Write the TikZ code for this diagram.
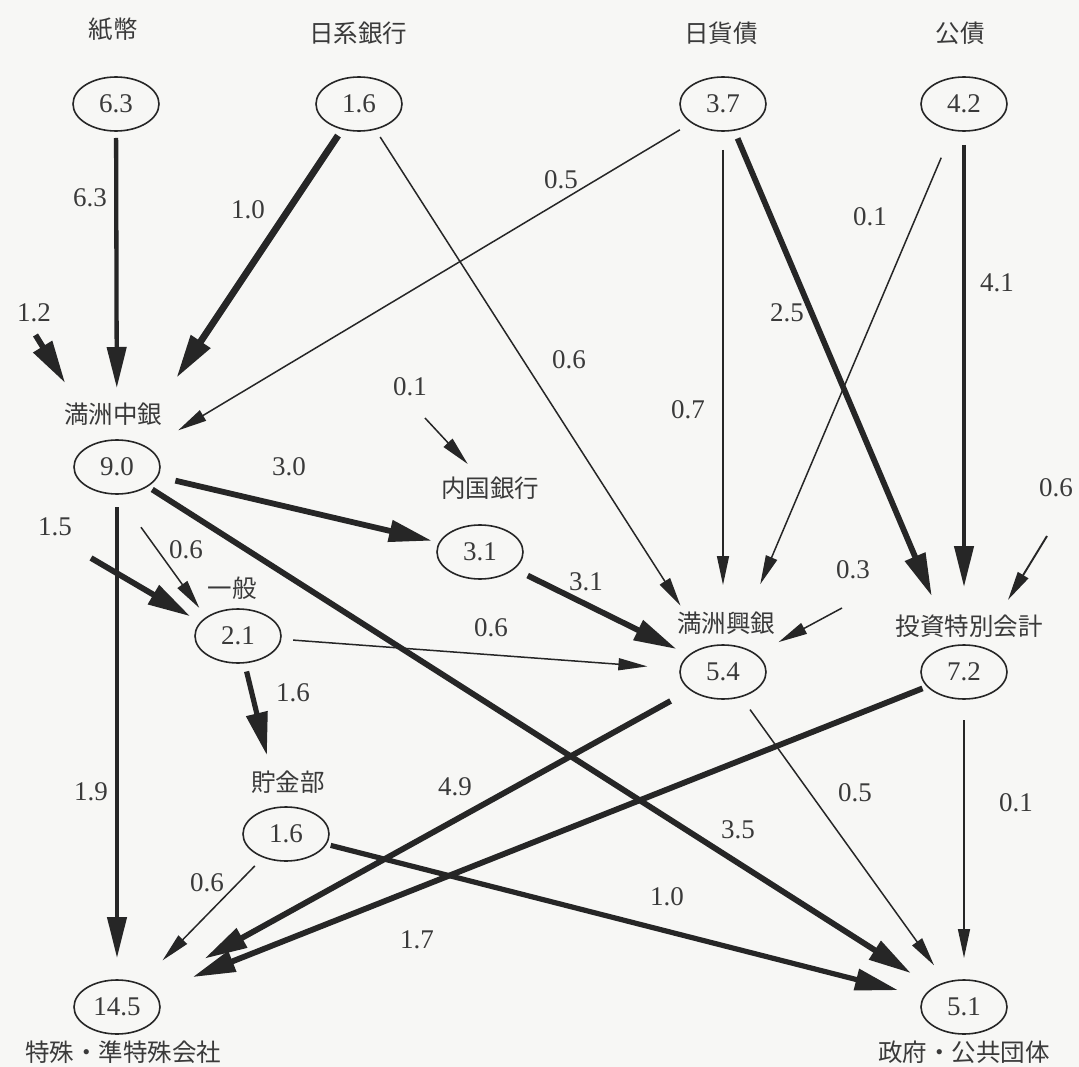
\documentclass[tikz,border=0pt]{standalone}
\usepackage{fontspec}
\setmainfont{Liberation Serif}
\newfontfamily\jpfont{Noto Sans CJK JP}
\usetikzlibrary{arrows.meta,shapes.geometric}
\definecolor{ink}{HTML}{262626}
\definecolor{txt}{HTML}{3A3A3A}
\definecolor{paper}{HTML}{F7F7F5}
\begin{document}
\begin{tikzpicture}[x=1pt,y=-1pt,
  oval/.style={draw=ink, line width=1.6pt, ellipse, minimum width=86pt, minimum height=54pt,
               inner sep=0pt, outer sep=0pt, text=txt, font=\fontsize{27}{27}\selectfont},
  lab/.style={inner sep=0pt, text=txt, font=\jpfont\fontsize{24.5}{24.5}\selectfont},
  num/.style={inner sep=0pt, text=txt, font=\fontsize{27}{27}\selectfont},
  thin/.style={draw=ink, line width=1.5pt, -{Triangle[length=29pt,width=12pt]}},
  mid/.style={draw=ink, line width=4.3pt, -{Triangle[length=41pt,width=19pt]}},
  bold/.style={draw=ink, line width=5.8pt, -{Triangle[length=43pt,width=21pt]}},
  heavy/.style={draw=ink, line width=6.8pt, -{Triangle[length=44pt,width=22pt]}},
]
\path[fill=paper] (0,0) rectangle (1079,1067);

% top row
\node[lab] (tA) at (113,29) {紙幣};
\node[lab] (tB) at (358,33) {日系銀行};
\node[lab] (tC) at (721,33) {日貨債};
\node[lab] (tD) at (960,33) {公債};
\node[oval] (eA) at (116,104) {6.3};
\node[oval] (eB) at (359,104) {1.6};
\node[oval] (eC) at (723,104) {3.7};
\node[oval] (eD) at (964,104) {4.2};

% middle
\node[lab] (tM) at (113,414) {満洲中銀};
\node[oval] (eM) at (117,467) {9.0};
\node[lab] (tN) at (490,488) {内国銀行};
\node[oval] (eN) at (480,552) {3.1};
\node[lab] (tG) at (232,588) {一般};
\node[oval] (eG) at (238,636) {2.1};
\node[lab] (tK) at (726,623) {満洲興銀};
\node[oval] (eK) at (723,672) {5.4};
\node[lab] (tT) at (969,626) {投資特別会計};
\node[oval] (eT) at (964,672) {7.2};
\node[lab] (tS) at (288,782) {貯金部};
\node[oval] (eS) at (286,834) {1.6};

% bottom
\node[oval] (eX) at (117,1007) {14.5};
\node[lab] (tX) at (123,1052) {特殊・準特殊会社};
\node[oval] (eY) at (964,1007) {5.1};
\node[lab] (tY) at (964,1052) {政府・公共団体};

% free ends of incoming flows
\coordinate (in12) at (35.5,335);
\coordinate (in06) at (1047,536);
\coordinate (in03) at (842,608);
\coordinate (in01) at (425,418);
\coordinate (in15) at (91,558);

% connectors
\draw[mid, shorten <=7pt, shorten >=52pt] (eA) -- (eM);
\draw[heavy, shorten <=8pt, shorten >=77pt] (eB) -- (eM);
\draw[thin, shorten <=14pt, shorten >=35pt] (eC) -- (eM);
\draw[bold, shorten >=69pt] (in12) -- (eM);
\draw[thin, shorten <=9.5pt, shorten >=49pt] (eB) -- (eK);
\draw[thin, shorten <=19pt, shorten >=60pt] (eC) -- (eK);
\draw[bold, shorten <=9pt, shorten >=54pt] (eC) -- (eT);
\draw[thin, shorten <=30pt, shorten >=67pt] (eD) -- (eK);
\draw[mid, shorten <=14pt, shorten >=58pt] (eD) -- (eT);
\draw[thin, line width=1.9pt, shorten >=55pt] (in06) -- (eT);
\draw[thin, shorten >=26pt] (in03) -- (eK);
\draw[thin, shorten >=17pt] (in01) -- (tN);
\draw[bold, shorten <=18.6pt, shorten >=8pt] (eM) -- (eN);
\draw[bold, shorten <=6pt, shorten >=27pt] (eM) -- (eY);
\draw[mid, shorten <=13pt, shorten >=22pt] (eM) -- (eX);
\draw[thin, shorten <=41pt, shorten >=12pt] (eM.south) -- (eG.150);
\draw[bold, shorten >=12pt] (in15) -- (eG.160);
\draw[thin, shorten <=12.5pt, shorten >=33pt] (eG) -- (eK);
\draw[bold, shorten <=15.5pt, shorten >=14pt] (eN) -- (eK);
\draw[bold, line width=5.2pt, shorten <=9pt, shorten >=53.5pt] (eG) -- (eS);
\draw[bold, shorten <=23pt, shorten >=63pt] (eK) -- (eX);
\draw[bold, shorten <=5.5pt, shorten >=42pt] (eT) -- (eX);
\draw[thin, shorten <=12.5pt, shorten >=33pt] (eS) -- (eX);
\draw[bold, line width=5.2pt, shorten <=5pt, shorten >=27pt] (eS) -- (eY);
\draw[thin, shorten <=16pt, shorten >=21pt] (eK) -- (eY);
\draw[thin, shorten <=21pt, shorten >=22pt] (eT) -- (eY);

% flow labels
\node[num] (l01) at (90,198) {6.3};
\node[num] (l02) at (248,210) {1.0};
\node[num] (l03) at (34,313) {1.2};
\node[num] (l04) at (561,180) {0.5};
\node[num] (l05) at (569,360) {0.6};
\node[num] (l06) at (870,217) {0.1};
\node[num] (l07) at (997,283) {4.1};
\node[num] (l08) at (787,313) {2.5};
\node[num] (l09) at (688,410) {0.7};
\node[num] (l10) at (410,387) {0.1};
\node[num] (l11) at (289,467) {3.0};
\node[num] (l12) at (55,527) {1.5};
\node[num] (l13) at (186,550) {0.6};
\node[num] (l14) at (491,628) {0.6};
\node[num] (l15) at (1056,488) {0.6};
\node[num] (l16) at (853,570) {0.3};
\node[num] (l17) at (586,582) {3.1};
\node[num] (l18) at (293,693) {1.6};
\node[num] (l19) at (91,792) {1.9};
\node[num] (l20) at (455,787) {4.9};
\node[num] (l21) at (207,883) {0.6};
\node[num] (l22) at (417,940) {1.7};
\node[num] (l23) at (855,793) {0.5};
\node[num] (l24) at (1016,803) {0.1};
\node[num] (l25) at (738,830) {3.5};
\node[num] (l26) at (667,897) {1.0};
\end{tikzpicture}
\end{document}
